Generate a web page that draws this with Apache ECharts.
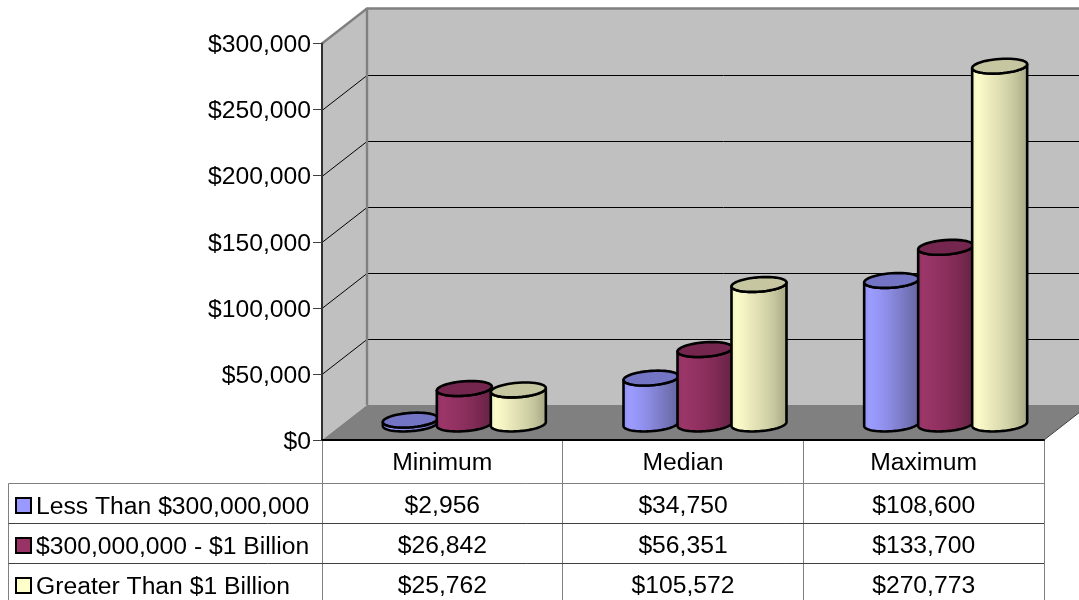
<!DOCTYPE html>
<html>
<head>
<meta charset="utf-8">
<style>html,body{margin:0;padding:0;background:#fff;overflow:hidden}#chart{width:1079px;height:600px}</style>
<script src="https://cdn.jsdelivr.net/npm/echarts@6/dist/echarts.min.js"></script>
</head>
<body>
<div id="chart"></div>
<script>
// Compensation figures by company size
const categories = ['Minimum', 'Median', 'Maximum'];
const seriesNames = ['Less Than $300,000,000', '$300,000,000 - $1 Billion', 'Greater Than $1 Billion'];
const lessThan300M = [2956, 34750, 108600];
const from300MTo1B = [26842, 56351, 133700];
const greaterThan1B = [25762, 105572, 270773];
const yTicks = [50000, 100000, 150000, 200000, 250000, 300000];

const allValues = [lessThan300M, from300MTo1B, greaterThan1B];
const FONT_SIZE = 24.7;
const FONT = FONT_SIZE + 'px "Liberation Sans", Arial, sans-serif';

// Oblique projection of the chart box
const DEPTH = { back: [45, -35], mid: [22, -16] };
const CYL = { rx: 27.5, ry: 7.2, tilt: 0.07, pitch: 54 };

// Shade ramps for each cylinder face, left to right
const PALETTE = [
  { key: '#9999ff', top: '#7474c4', ramp: ['#8c8cf0', '#9c9cff', '#9898fa', '#9292f0', '#8c8ce4', '#8484d6', '#7c7cc8', '#7474ba', '#6c6cac', '#64649e'] },
  { key: '#993366', top: '#74264e', ramp: ['#8f3060', '#9c3669', '#983466', '#933263', '#8e305f', '#882e5b', '#812b56', '#782850', '#6e254a', '#642143'] },
  { key: '#ffffcc', top: '#c6c6a0', ramp: ['#efefc0', '#fcfcca', '#f4f4c4', '#eaeabc', '#e2e2b6', '#d9d9ae', '#d0d0a6', '#c4c49c', '#b4b490', '#a4a482'] }
];

// Horizontal shading across the cylinder wall
function wallFill(ramp) {
  return {
    type: 'linear', x: 0, y: 0, x2: 1, y2: 0,
    colorStops: ramp.map((c, i) => ({ offset: i / (ramp.length - 1), color: c }))
  };
}

function ringPoint(cx, cy, t) {
  const c = Math.cos(t), s = Math.sin(t);
  return [cx + CYL.rx * c, cy + CYL.ry * s - CYL.tilt * CYL.rx * c];
}

function ring(cx, cy, from, to) {
  const pts = [];
  for (let i = 0; i <= 48; i++) pts.push(ringPoint(cx, cy, from + (to - from) * i / 48));
  return pts;
}

function renderCylinder(seriesIndex) {
  return function (params, api) {
    const top = api.coord([api.value(0), api.value(1)]);
    const base = api.coord([api.value(0), 0]);
    const shift = (seriesIndex - 1) * CYL.pitch + DEPTH.mid[0];
    const cx = top[0] + shift;
    const yTop = top[1] + DEPTH.mid[1];
    const yBase = base[1] + DEPTH.mid[1];
    const skin = PALETTE[seriesIndex];
    const body = ring(cx, yBase, 0, Math.PI).concat(ring(cx, yTop, Math.PI, 0));
    return {
      type: 'group',
      children: [
        { type: 'polygon', shape: { points: body }, style: { fill: wallFill(skin.ramp), stroke: '#000', lineWidth: 2.6, lineJoin: 'round' } },
        { type: 'polygon', shape: { points: ring(cx, yTop, 0, Math.PI * 2) }, style: { fill: skin.top, stroke: '#000', lineWidth: 2.6, lineJoin: 'round' } }
      ]
    };
  };
}

// Side wall, back wall, floor and their gridlines
function renderBox(params, api) {
  const box = params.coordSys;
  const x0 = box.x, x1 = box.x + box.width;
  const y0 = box.y + box.height, yT = box.y;
  const [dx, dy] = DEPTH.back;
  const kids = [
    { type: 'polygon', shape: { points: [[x0, y0], [x0, yT], [x0 + dx, yT + dy], [x0 + dx, y0 + dy]] }, style: { fill: '#c0c0c0' } },
    { type: 'polygon', shape: { points: [[x0 + dx, y0 + dy], [x0 + dx, yT + dy], [x1 + dx, yT + dy], [x1 + dx, y0 + dy]] }, style: { fill: '#c0c0c0' } },
    { type: 'polygon', shape: { points: [[x0, y0], [x0 + dx, y0 + dy], [x1 + dx, y0 + dy], [x1, y0]] }, style: { fill: '#808080' } }
  ];
  yTicks.slice(0, -1).forEach(t => {
    const y = Math.round(api.coord([0, t])[1] + dy) + 0.5;
    kids.push({ type: 'polyline', shape: { points: [[x0, y - dy], [x0 + dx, y], [x1 + dx, y]] }, style: { fill: 'none', stroke: '#000', lineWidth: 1 } });
  });
  kids.push({ type: 'polyline', shape: { points: [[x0, yT], [x0 + dx, yT + dy], [x1 + dx, yT + dy]] }, style: { fill: 'none', stroke: '#808080', lineWidth: 2.4 } });
  kids.push({ type: 'line', shape: { x1: x0 + dx, y1: yT + dy, x2: x0 + dx, y2: y0 + dy }, style: { stroke: '#808080', lineWidth: 2.4 } });
  kids.push({ type: 'line', shape: { x1: x1, y1: y0, x2: x1 + dx, y2: y0 + dy }, style: { stroke: '#404040', lineWidth: 1 } });
  return { type: 'group', children: kids };
}

// Data table under the plot: one row per series, legend key in the first column
function renderTable(params, api) {
  const box = params.coordSys;
  const x0 = box.x, x1 = box.x + box.width, y0 = box.y + box.height;
  const rowTop = 483.5, rowH = 40, tableLeft = 8.5;
  const kids = [];
  const band = box.width / categories.length;
  for (let c = 0; c <= categories.length; c++) {
    const x = Math.floor(x0 + c * band) + 0.5;
    kids.push({ type: 'line', shape: { x1: x, y1: y0, x2: x, y2: 600 }, style: { stroke: '#808080', lineWidth: 1 } });
  }
  kids.push({ type: 'line', shape: { x1: tableLeft, y1: rowTop, x2: tableLeft, y2: 600 }, style: { stroke: '#808080', lineWidth: 1 } });
  seriesNames.forEach((name, r) => {
    const y = rowTop + r * rowH;
    kids.push({ type: 'line', shape: { x1: tableLeft, y1: y, x2: x1, y2: y }, style: { stroke: r === 0 ? '#808080' : '#404040', lineWidth: 1 } });
    const mid = y + rowH / 2 + 2.5;
    kids.push({ type: 'rect', shape: { x: 16, y: mid - 8, width: 15, height: 15 }, style: { fill: PALETTE[r].key, stroke: '#000', lineWidth: 2 } });
    kids.push({ type: 'text', style: { text: name, x: 36, y: mid + 1.5, align: 'left', verticalAlign: 'middle', font: FONT, fill: '#000' } });
    categories.forEach((cat, c) => {
      kids.push({
        type: 'text',
        style: {
          text: '$' + allValues[r][c].toLocaleString('en-US'),
          x: api.coord([c, 0])[0], y: mid,
          align: 'center', verticalAlign: 'middle', font: FONT, fill: '#000'
        }
      });
    });
  });
  return { type: 'group', children: kids };
}

const chart = echarts.init(document.getElementById('chart'), null, { renderer: 'canvas' });
chart.setOption({
  animation: false,
  backgroundColor: '#fff',
  textStyle: { fontFamily: '"Liberation Sans", Arial, sans-serif' },
  grid: { left: 322, top: 43.5, width: 722, height: 396.5, containLabel: false },
  xAxis: {
    type: 'category',
    data: categories,
    z: 3,
    axisTick: { show: false },
    axisLine: { show: true, onZero: false, lineStyle: { color: '#000', width: 2 } },
    axisLabel: { show: true, color: '#000', fontSize: FONT_SIZE, margin: 11, interval: 0 },
    splitLine: { show: false }
  },
  yAxis: {
    type: 'value',
    min: 0,
    max: 300000,
    interval: 50000,
    z: 3,
    axisLine: { show: true, lineStyle: { color: '#303030', width: 2 } },
    axisTick: { show: true, length: 9, lineStyle: { color: '#404040', width: 1 } },
    axisLabel: {
      color: '#000',
      fontSize: FONT_SIZE,
      margin: 11,
      formatter: v => '{tick|$' + v.toLocaleString('en-US') + '}',
      rich: { tick: { fontSize: FONT_SIZE, color: '#000', padding: [4, 0, 0, 0], verticalAlign: 'bottom' } }
    },
    splitLine: { show: false }
  },
  series: [
    { type: 'custom', name: 'box', coordinateSystem: 'cartesian2d', z: 1, silent: true, renderItem: renderBox, data: [[0, 0]], clip: false },
    { type: 'custom', name: 'table', coordinateSystem: 'cartesian2d', z: 2, silent: true, renderItem: renderTable, data: [[0, 0]], clip: false }
  ].concat(allValues.map((vals, i) => ({
    type: 'custom',
    name: seriesNames[i],
    coordinateSystem: 'cartesian2d',
    z: 4 + i,
    silent: true,
    clip: false,
    renderItem: renderCylinder(i),
    encode: { x: 0, y: 1 },
    data: vals.map((v, c) => [c, v])
  })))
});
</script>
</body>
</html>
